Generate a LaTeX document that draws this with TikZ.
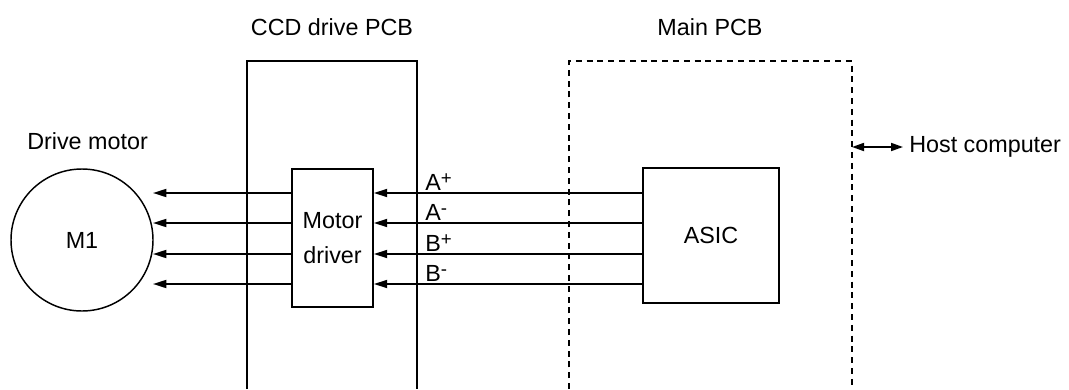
\documentclass[tikz,border=0pt]{standalone}
\usepackage{fontspec}
\setmainfont{Liberation Sans}
\usetikzlibrary{arrows.meta,positioning}

\newcommand\phs[1]{\raisebox{4.5pt}{\fontsize{14}{14}\selectfont#1}}

\tikzset{
  blk/.style={draw, line width=1.3pt, inner sep=0pt},
  lbl/.style={inner sep=0pt},
  sig/.style={line width=1.3pt, -{Triangle[length=10pt,width=6pt]}},
  board/.style={line width=1.3pt},
  dboard/.style={line width=1.3pt, dash pattern=on 4.5pt off 3.6pt},
}

\begin{document}
\begin{tikzpicture}[x=0.75pt, y=-0.75pt, font=\fontsize{17.5}{26}\selectfont]
  \useasboundingbox (0,0) rectangle (1069,389);

  % --- Boards ---
  \draw[board] (247,389) |- (417,61) -- (417,389);
  \draw[dboard] (569,389) |- (852,61) -- (852,389);
  \node[lbl, anchor=base] (ccdlbl) at (332,35.5) {CCD drive PCB};
  \node[lbl, anchor=base] (mainlbl) at (710,35.5) {Main PCB};

  % --- Blocks ---
  \node[blk, circle, line width=1.1pt, minimum size=106.5pt] (m1) at (82,240) {M1};
  \node[lbl, anchor=base west] (motorlbl) at (27,149) {Drive motor};
  \node[blk, minimum width=60.75pt, minimum height=103.5pt, align=center] (drv) at (332.5,238) {Motor\\driver};
  \node[blk, minimum width=102pt, minimum height=101.25pt] (asic) at (711,235.5) {ASIC};

  % --- Phase lines ---
  \foreach \y/\p/\sg [count=\i] in {193/A/+, 223/A/-, 254/B/+, 284/B/-} {
    \draw[sig] (asic.west |- 0,\y) -- (drv.east |- 0,\y);
    \coordinate (tip\i) at (153,\y);
    \draw[sig] (drv.west |- 0,\y) -- (tip\i);
    \node[lbl, anchor=base west] (sig\i) at (425,\y-2.5) {\p\phs{\sg}};
  }

  % Host link
  \coordinate (hostport) at (852,147);
  \node[lbl, anchor=base west] (host) at (909,152) {Host computer};
  \draw[line width=1.3pt, {Triangle[length=9pt,width=6pt]}-{Triangle[length=9pt,width=6pt]}]
    (hostport) -- ([xshift=-4.5pt]host.west |- hostport);
\end{tikzpicture}
\end{document}
